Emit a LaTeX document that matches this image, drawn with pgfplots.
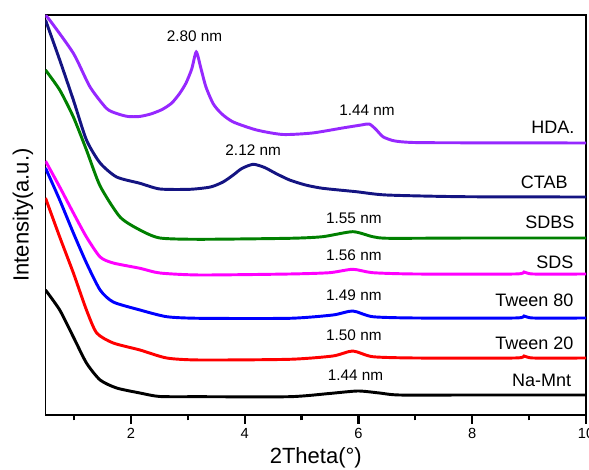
\documentclass[border=0pt]{standalone}
\usepackage{pgfplots}
\pgfplotsset{compat=1.18}
\usepackage{fontspec}
\setmainfont{Liberation Sans}
\definecolor{cHDA}{RGB}{150,40,255}
\definecolor{cCTAB}{RGB}{20,20,130}
\definecolor{cSDBS}{RGB}{0,128,0}
\definecolor{cSDS}{RGB}{255,0,255}
\definecolor{cT80}{RGB}{0,0,255}
\definecolor{cT20}{RGB}{255,0,0}
\begin{document}
\begin{tikzpicture}
\begin{axis}[
  at={(0pt,0pt)}, anchor=south west,
  scale only axis, width=405.4pt, height=300pt,
  xmin=0.5, xmax=10, ymin=0, ymax=400,
  xtick={2,4,6,8,10}, minor xtick={1,3,5,7,9},
  ytick=\empty,
  xtick pos=left, tick align=outside,
  major tick length=6.5pt, minor tick length=4pt,
  axis line style={line width=1.4pt},
  every tick/.append style={black, line width=1.6pt},
  tick label style={font=\fontsize{11}{13}\selectfont},
  /pgf/number format/assume math mode=true,
  xlabel={2Theta(\textdegree)},
  ylabel={Intensity(a.u.)},
  label style={font=\fontsize{16.5}{19}\selectfont},
  xlabel style={at={(axis description cs:0.5,0)}, anchor=center, yshift=-32pt},
  ylabel style={at={(axis description cs:0,0.5)}, anchor=center, yshift=17pt},
  every axis plot/.append style={line width=2.2pt, smooth, tension=0.4},
  clip=true,
]
% Na-Mnt
\addplot[black] coordinates {(0.5,125)(0.75,105)(0.99,78)(1.22,52)(1.46,35)(1.75,27)(2.16,22)(2.51,18.5)(3.21,18.3)(4.79,18.3)(5.49,21.5)(5.99,24)(6.37,22)(6.72,20)(8,20)(10,20)};
% Tween 20
\addplot[cT20] coordinates {(0.5,217)(0.75,178)(0.99,142)(1.22,105)(1.40,82)(1.69,72)(2.16,65)(2.63,57)(3.21,55)(4.79,55.7)(5.55,59)(5.90,64)(6.25,58.3)(7,57)(8.75,57)(8.91,59)(9.07,57)(10,57)};
% Tween 80
\addplot[cT80] coordinates {(0.5,247)(0.75,215)(0.99,182)(1.22,152)(1.46,125)(1.69,113)(2.16,105)(2.63,98.3)(3.21,96.7)(4.79,96.7)(5.55,100)(5.90,104)(6.25,98.3)(7,97)(8.75,97)(8.91,99)(9.07,97)(10,97)};
% SDS
\addplot[cSDS] coordinates {(0.5,254)(0.75,228)(0.99,202)(1.22,178)(1.46,158)(1.69,152)(2.16,146.7)(2.51,142)(3.21,140)(4.79,141)(5.49,142.3)(5.90,145.7)(6.25,142.3)(7,141)(8.75,141)(8.91,143)(9.07,141)(10,141)};
% SDBS
\addplot[cSDBS] coordinates {(0.5,345)(0.75,325)(0.99,298)(1.22,265)(1.46,229)(1.81,198)(2.16,185)(2.51,177)(3.21,175.7)(4.79,176.7)(5.37,178.3)(5.90,183.3)(6.25,178.3)(6.54,176.7)(8,177)(10,177)};
% CTAB
\addplot[cCTAB] coordinates {(0.5,395)(0.75,355)(0.99,315)(1.22,275)(1.46,252)(1.75,238)(2.16,231.7)(2.51,226)(3.04,225.7)(3.40,228)(3.62,233)(3.80,240)(3.95,246.5)(4.15,250.7)(4.35,247.5)(4.55,241.5)(4.79,235)(5.07,230)(5.37,226.7)(5.96,223.3)(6.49,220)(7.83,218.3)(10,218)};
% HDA
\addplot[cHDA] coordinates {(0.5,398)(0.55,396.7)(0.99,361.7)(1.28,328.3)(1.57,306.7)(1.75,301.5)(1.95,298.5)(2.15,298.5)(2.35,301)(2.55,305.5)(2.72,312)(2.86,321.7)(2.97,332)(3.07,346)(3.15,363)(3.23,347)(3.32,328)(3.45,311)(3.6,301)(3.8,293)(4.21,285)(4.67,280.5)(5.19,282)(5.72,287)(6.05,290)(6.19,291)(6.30,286)(6.43,278.3)(6.6,274.5)(6.8,273)(7.24,272.3)(10,272)};
% annotations
\begin{scope}[every node/.style={font=\fontsize{11.5}{13}\selectfont, anchor=center}]
\node at (axis cs:3.12,378.3) {2.80 nm};
\node at (axis cs:6.15,305) {1.44 nm};
\node at (axis cs:4.15,265) {2.12 nm};
\node at (axis cs:5.92,196.7) {1.55 nm};
\node at (axis cs:5.92,160) {1.56 nm};
\node at (axis cs:5.92,120) {1.49 nm};
\node at (axis cs:5.92,79.3) {1.50 nm};
\node at (axis cs:5.95,40) {1.44 nm};
\end{scope}
\begin{scope}[every node/.style={font=\fontsize{13.5}{15}\selectfont, anchor=east}]
\node at (axis cs:9.88,288) {HDA.};
\node at (axis cs:9.76,233) {CTAB};
\node at (axis cs:9.88,193) {SDBS};
\node at (axis cs:9.86,153) {SDS};
\node at (axis cs:9.86,115) {Tween 80};
\node at (axis cs:9.86,72) {Tween 20};
\node at (axis cs:9.82,35) {Na-Mnt};
\end{scope}
\end{axis}
\pgfresetboundingbox
\useasboundingbox (-34.125pt,-41.25pt) rectangle (407.625pt,311.25pt);
\end{tikzpicture}
\end{document}
